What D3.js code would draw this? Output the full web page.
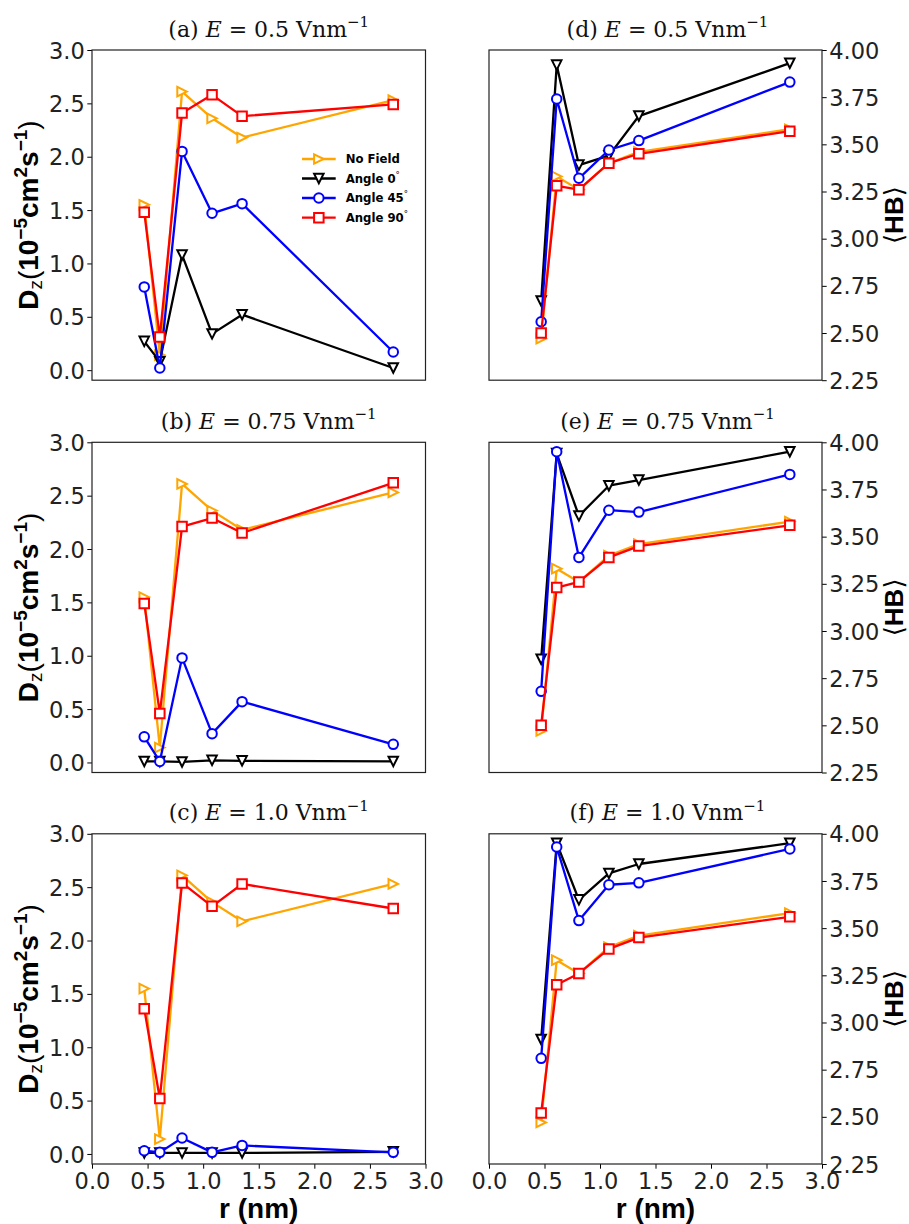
<!DOCTYPE html>
<html>
<head>
<meta charset="utf-8">
<script src="https://cdn.jsdelivr.net/npm/d3@7"></script>
<style>
  html, body { margin: 0; padding: 0; background: #fff; }
  svg { display: block; }
</style>
</head>
<body>
<svg id="chart" width="909" height="1224"></svg>
<script>
// ---------------- DATA ----------------
const rValues = [0.47, 0.61, 0.81, 1.08, 1.35, 2.71];

const seriesNames = ["No Field", "Angle 0", "Angle 45", "Angle 90"];
const fieldLabels = ["0.5", "0.75", "1.0"];
const leftLetters = ["(a)", "(b)", "(c)"];
const rightLetters = ["(d)", "(e)", "(f)"];

const dzNoField  = [1.55, 0.14, 2.61, 2.36, 2.18, 2.53];
const dzA0_E05   = [0.27, 0.08, 1.08, 0.34, 0.52, 0.02];
const dzA45_E05  = [0.78, 0.02, 2.05, 1.47, 1.56, 0.17];
const dzA90_E05  = [1.48, 0.31, 2.41, 2.58, 2.38, 2.49];
const dzA0_E075  = [0.01, 0.01, 0.005, 0.02, 0.015, 0.01];
const dzA45_E075 = [0.24, 0.01, 0.98, 0.27, 0.57, 0.17];
const dzA90_E075 = [1.49, 0.46, 2.21, 2.29, 2.15, 2.62];
const dzA0_E10   = [0.01, 0.01, 0.01, 0.01, 0.01, 0.02];
const dzA45_E10  = [0.03, 0.015, 0.15, 0.015, 0.08, 0.015];
const dzA90_E10  = [1.36, 0.52, 2.54, 2.32, 2.53, 2.30];

const hbNoField  = [2.47, 3.33, 3.26, 3.40, 3.46, 3.58];
const hbA0_E05   = [2.67, 3.92, 3.39, 3.44, 3.65, 3.93];
const hbA45_E05  = [2.56, 3.74, 3.32, 3.47, 3.52, 3.83];
const hbA90_E05  = [2.50, 3.28, 3.26, 3.40, 3.45, 3.57];
const hbA0_E075  = [2.85, 3.94, 3.61, 3.77, 3.80, 3.95];
const hbA45_E075 = [2.68, 3.95, 3.39, 3.64, 3.63, 3.83];
const hbA90_E075 = [2.50, 3.23, 3.26, 3.39, 3.45, 3.56];
const hbA0_E10   = [2.91, 3.95, 3.65, 3.79, 3.84, 3.95];
const hbA45_E10  = [2.81, 3.93, 3.54, 3.73, 3.74, 3.92];
const hbA90_E10  = [2.52, 3.20, 3.26, 3.39, 3.45, 3.56];

const xTicks = [0, 0.5, 1.0, 1.5, 2.0, 2.5, 3.0];
const dzTicks = [0, 0.5, 1.0, 1.5, 2.0, 2.5, 3.0];
const hbTicks = [2.25, 2.5, 2.75, 3.0, 3.25, 3.5, 3.75, 4.0];

const dzRows = [
  [dzNoField, dzA0_E05, dzA45_E05, dzA90_E05],
  [dzNoField, dzA0_E075, dzA45_E075, dzA90_E075],
  [dzNoField, dzA0_E10, dzA45_E10, dzA90_E10]
];
const hbRows = [
  [hbNoField, hbA0_E05, hbA45_E05, hbA90_E05],
  [hbNoField, hbA0_E075, hbA45_E075, hbA90_E075],
  [hbNoField, hbA0_E10, hbA45_E10, hbA90_E10]
];

// ---------------- STYLE / LAYOUT ----------------
const colors = ["#FFA500", "#000000", "#0000FF", "#FF0000"];
const markerTypes = ["triRight", "triDown", "circle", "square"];
const MS = 9.5;
const LW = 2.3;
const MEW = 2;

const leftX = [92, 425.5];
const rightX = [489, 822];
const rowTops = [50, 442.3, 833.8];
const rowH = 330.2;

const tickFont = "'DejaVu Sans', sans-serif";
const tickSize = 22.5;
const labelFont = "'Liberation Sans', Arial, sans-serif";
const titleFont = "'DejaVu Serif', serif";

const svg = d3.select("#chart");

function markerPath(type, s) {
  const h = s / 2;
  if (type === "circle") return d3.arc()({innerRadius: 0, outerRadius: h, startAngle: 0, endAngle: 2 * Math.PI});
  if (type === "square") return `M${-h},${-h}H${h}V${h}H${-h}Z`;
  if (type === "triDown") return `M0,${h}L${-h},${-h}L${h},${-h}Z`;
  if (type === "triRight") return `M${h},0L${-h},${-h}L${-h},${h}Z`;
}

function drawPanel(x0, x1, top, yDomain, yTicks, yFmt, side, seriesList, showX) {
  const x = d3.scaleLinear().domain([0, 3]).range([x0, x1]);
  const y = d3.scaleLinear().domain(yDomain).range([top + rowH, top]);
  const g = svg.append("g");

  const yAxis = (side === "left" ? d3.axisLeft(y) : d3.axisRight(y))
    .tickValues(yTicks).tickFormat(yFmt).tickSizeInner(4.7).tickSizeOuter(0).tickPadding(2.5);
  const ya = g.append("g")
    .attr("transform", `translate(${side === "left" ? x0 : x1},0)`)
    .call(yAxis);
  ya.select(".domain").remove();
  ya.selectAll("line").attr("stroke", "#000").attr("stroke-width", 1);
  ya.selectAll("text").attr("font-family", tickFont).attr("font-size", tickSize).attr("fill", "#222")
    .attr("dy", "0.36em");

  if (showX) {
    const xa = g.append("g")
      .attr("transform", `translate(0,${top + rowH})`)
      .call(d3.axisBottom(x).tickValues(xTicks).tickFormat(d3.format(".1f")).tickSizeInner(4.7).tickSizeOuter(0).tickPadding(3));
    xa.select(".domain").remove();
    xa.selectAll("line").attr("stroke", "#000").attr("stroke-width", 1);
    xa.selectAll("text").attr("font-family", tickFont).attr("font-size", tickSize).attr("fill", "#222")
      .attr("dy", "0.76em");
  }

  g.append("rect").attr("x", x0).attr("y", top).attr("width", x1 - x0).attr("height", rowH)
    .attr("fill", "none").attr("stroke", "#222").attr("stroke-width", 1.2);

  const line = d3.line().x((d, i) => x(rValues[i])).y(d => y(d));
  seriesList.forEach((vals, si) => {
    g.append("path").datum(vals).attr("d", line)
      .attr("fill", "none").attr("stroke", colors[si]).attr("stroke-width", LW)
      .attr("stroke-linejoin", "round");
    g.selectAll(null).data(vals).enter().append("path")
      .attr("d", markerPath(markerTypes[si], MS))
      .attr("transform", (d, i) => `translate(${x(rValues[i])},${y(d)})`)
      .attr("fill", "#fff").attr("stroke", colors[si]).attr("stroke-width", MEW);
  });
}

function drawTitle(cx, baseY, letter, field) {
  const t = svg.append("text").attr("x", cx).attr("y", baseY)
    .attr("text-anchor", "middle").attr("font-family", titleFont).attr("font-size", 22).attr("fill", "#111");
  t.append("tspan").text(letter + " ");
  t.append("tspan").attr("font-style", "italic").text("E");
  t.append("tspan").text(" = " + field + " Vnm");
  t.append("tspan").attr("font-size", 15).attr("dy", -9.5).text("\u22121");
}

function drawDzLabel(cx, cy) {
  const t = svg.append("text").attr("transform", `translate(${cx},${cy}) rotate(-90)`)
    .attr("text-anchor", "middle").attr("font-family", labelFont).attr("font-size", 28)
    .attr("font-weight", "bold").attr("fill", "#000");
  t.append("tspan").text("D");
  t.append("tspan").attr("font-size", 19).attr("font-weight", "normal").attr("dy", 4).text("z");
  t.append("tspan").attr("font-weight", "normal").attr("dy", -4).text("(");
  t.append("tspan").text("10");
  t.append("tspan").attr("font-size", 19).attr("dy", -11).text("\u22125");
  t.append("tspan").attr("dy", 11).text("cm");
  t.append("tspan").attr("font-size", 19).attr("dy", -11).text("2");
  t.append("tspan").attr("dy", 11).text("s");
  t.append("tspan").attr("font-size", 19).attr("dy", -11).text("\u22121");
  t.append("tspan").attr("font-weight", "normal").attr("dy", 11).text(")");
}

function drawHbLabel(cx, cy) {
  const t = svg.append("text").attr("transform", `translate(${cx},${cy}) rotate(-90)`)
    .attr("text-anchor", "middle").attr("font-family", labelFont).attr("font-size", 26)
    .attr("fill", "#000");
  t.append("tspan").attr("font-family", "'DejaVu Sans', sans-serif").attr("font-weight", "normal").text("\u27E8");
  t.append("tspan").attr("font-weight", "bold").text("HB");
  t.append("tspan").attr("font-family", "'DejaVu Sans', sans-serif").attr("font-weight", "normal").text("\u27E9");
}

for (let row = 0; row < 3; row++) {
  const top = rowTops[row];
  drawPanel(leftX[0], leftX[1], top, [-0.094, 3.0], dzTicks, d3.format(".1f"), "left", dzRows[row], row === 2);
  drawPanel(rightX[0], rightX[1], top, [2.25, 4.0], hbTicks, d3.format(".2f"), "right", hbRows[row], row === 2);
  drawTitle((leftX[0] + leftX[1]) / 2 + 10, top - 13.5, leftLetters[row], fieldLabels[row]);
  drawTitle((rightX[0] + rightX[1]) / 2 + 12, top - 13.5, rightLetters[row], fieldLabels[row]);
  drawDzLabel(37.5, top + rowH / 2);
  drawHbLabel(903, top + rowH / 2);
}

[leftX, rightX].forEach(xr => {
  svg.append("text").attr("x", (xr[0] + xr[1]) / 2).attr("y", 1218)
    .attr("text-anchor", "middle").attr("font-family", labelFont).attr("font-size", 28)
    .attr("font-weight", "bold").attr("fill", "#000").text("r (nm)");
});

// legend (panel a)
const legendX0 = 302, legendX1 = 335.7, legendTextX = 345.7;
const legendRowsY = [159, 178.5, 198, 217.7];
const legendText = ["No Field", "Angle 0", "Angle 45", "Angle 90"];
const lg = svg.append("g");
seriesNames.forEach((name, i) => {
  const yy = legendRowsY[i];
  lg.append("line").attr("x1", legendX0).attr("x2", legendX1).attr("y1", yy).attr("y2", yy)
    .attr("stroke", colors[i]).attr("stroke-width", LW);
  lg.append("path").attr("d", markerPath(markerTypes[i], MS))
    .attr("transform", `translate(${(legendX0 + legendX1) / 2},${yy})`)
    .attr("fill", "#fff").attr("stroke", colors[i]).attr("stroke-width", MEW);
  const t = lg.append("text").attr("x", legendTextX).attr("y", yy + 4.3)
    .attr("font-family", "'DejaVu Sans', sans-serif").attr("font-weight", "bold").attr("font-size", 11.7)
    .attr("fill", "#000").text(legendText[i]);
  if (i > 0) t.append("tspan").attr("font-weight", "normal").attr("font-size", 8.5).attr("dy", -5).text("\u00B0");
});
</script>
</body>
</html>
